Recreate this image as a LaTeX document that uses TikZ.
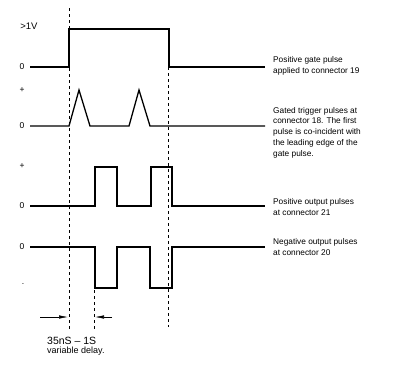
\documentclass[tikz,border=0pt]{standalone}
\usepackage{fontspec}
\setmainfont{Liberation Sans}
\usetikzlibrary{arrows.meta}
\begin{document}
\begin{tikzpicture}[x=1pt,y=-1pt,
  wave/.style={line width=1.3pt, line join=miter},
  guide/.style={line width=0.6pt, dash pattern=on 3pt off 3pt},
  dim/.style={line width=0.6pt, -{Latex[length=9pt,width=3.5pt]}},
  lbl/.style={anchor=west, font=\fontsize{8.3}{10.7}\selectfont, align=left, inner sep=0pt},
  lvl/.style={anchor=center, font=\fontsize{8.5}{9}\selectfont, inner sep=0pt}]
\useasboundingbox (0,0) rectangle (394,365);

% waveforms
\draw[wave] (30,67) -- (69,67) -- (69,29) -- (169,29) -- (169,67) -- (265,67);
\draw[wave] (30,126) -- (69,126) -- (79,90) -- (90,126) -- (129,126) -- (139,90) -- (150,126) -- (265,126);
\draw[wave] (30,206) -- (95,206) -- (95,167) -- (117,167) -- (117,206) -- (151,206) -- (151,167) -- (172,167) -- (172,206) -- (265,206);
\draw[wave] (30,247) -- (95,247) -- (95,288) -- (117,288) -- (117,247) -- (150,247) -- (150,288) -- (172,288) -- (172,247) -- (265,247);

% guide lines
\draw[guide] (69,8) -- (69,330);
\draw[guide] (168.5,67) -- (168.5,327);
\draw[guide] (94,290) -- (94,330);

% delay arrows
\coordinate (la) at (40,317);
\coordinate (lb) at (68,317);
\coordinate (ra) at (112,317);
\coordinate (rb) at (95,317);
\draw[dim] (la) -- (lb);
\draw[dim] (ra) -- (rb);

% level labels
\node[lvl, font=\fontsize{9.5}{10}\selectfont] (v1) at (29,26) {>1V};
\node[lvl] (z1) at (22,67) {0};
\node[lvl] (p2) at (22,90) {+};
\node[lvl] (z2) at (22,126) {0};
\node[lvl] (p3) at (22,166) {+};
\node[lvl] (z3) at (22,206) {0};
\node[lvl] (z4) at (22,247) {0};
\node[lvl] (m4) at (23,284) {.};

% right labels
\node[lbl] (t1) at (273,66) {Positive gate pulse\\applied to connector 19};
\node[lbl] (t2) at (273,132.5) {Gated trigger pulses at\\connector 18. The first\\pulse is co-incident with\\the leading edge of the\\gate pulse.};
\node[lbl] (t3) at (273,207) {Positive output pulses\\at connector 21};
\node[lbl] (t4) at (273,247) {Negative output pulses\\at connector 20};

% delay text
\node[anchor=west, inner sep=0pt, font=\fontsize{10.5}{11}\selectfont] (d1) at (47,341) {35nS – 1S};
\node[anchor=west, inner sep=0pt, font=\fontsize{9}{10}\selectfont] (d2) at (47,351) {variable delay.};
\end{tikzpicture}
\end{document}
